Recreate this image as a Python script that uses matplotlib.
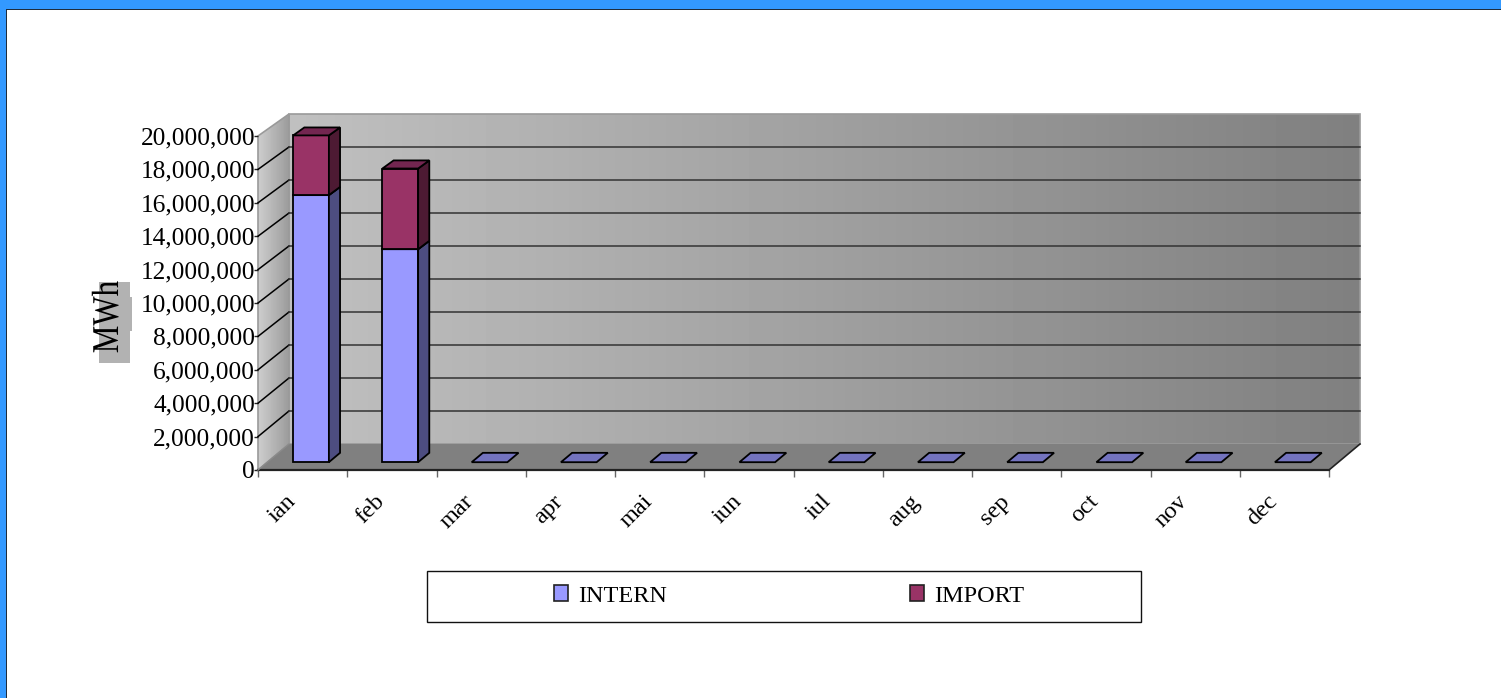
import matplotlib
matplotlib.use("Agg")
import matplotlib.pyplot as plt
import matplotlib.patheffects as pe
import numpy as np
from matplotlib.patches import Patch, Polygon, Rectangle
from matplotlib.transforms import Affine2D

months = ["ian", "feb", "mar", "apr", "mai", "iun", "iul", "aug", "sep", "oct", "nov", "dec"]
intern = [16050000, 12800000, 0, 0, 0, 0, 0, 0, 0, 0, 0, 0]
imports = [3590000, 4850000, 0, 0, 0, 0, 0, 0, 0, 0, 0, 0]
yticks = [0, 2000000, 4000000, 6000000, 8000000, 10000000, 12000000, 14000000, 16000000, 18000000, 20000000]

W, H = 1501, 698
LEFT, RIGHT, BOTTOM, TOP = 258, 1329, 470, 136
YMAX = 20000000

# 3d look: how far the back wall sits from the front plane, in data units
DX = 31 / ((RIGHT - LEFT) / 12)
DY = 26 / (BOTTOM - TOP) * YMAX
SHRINK = 0.012

plt.rcParams["font.family"] = ["Liberation Serif", "DejaVu Serif"]


def fx(x):
    return x / W


def fy(y):
    return 1 - y / H


def proj(x, v, d):
    return x + d * DX, v * (1 - d * SHRINK) + d * DY


class Squash(pe.AbstractPathEffect):
    # squeeze a text around a pixel, the original label is stretched
    def __init__(self, cx, cy, sx, sy):
        super().__init__()
        self.tr = Affine2D().translate(-cx, -cy).scale(sx, sy).translate(cx, cy)

    def draw_path(self, renderer, gc, tpath, affine, rgbFace=None):
        renderer.draw_path(gc, tpath, affine + self.tr, rgbFace)


fig = plt.figure(figsize=(W / 100, H / 100), dpi=100, facecolor="white")

# blue slide border
fig.add_artist(Rectangle((0, fy(9)), 1, 9 / H, transform=fig.transFigure, fc="#3399ff", ec="none"))
fig.add_artist(Rectangle((0, 0), 6 / W, 1, transform=fig.transFigure, fc="#3399ff", ec="none"))
fig.add_artist(Rectangle((fx(6), fy(10)), 1, 1 / H, transform=fig.transFigure, fc="#1f2d3d", ec="none"))
fig.add_artist(Rectangle((fx(6), 0), 1 / W, fy(10), transform=fig.transFigure, fc="#1f2d3d", ec="none"))

ax = fig.add_axes([fx(LEFT), fy(BOTTOM), (RIGHT - LEFT) / W, (BOTTOM - TOP) / H])
ax.set_facecolor("none")
for s in ax.spines.values():
    s.set_visible(False)

# back wall
back = [proj(0, 0, 1), proj(12, 0, 1), proj(12, YMAX, 1), proj(0, YMAX, 1)]
grad = np.linspace(0.753, 0.5, 256).reshape(1, -1)
im = ax.imshow(grad, cmap="gray", vmin=0, vmax=1, aspect="auto", zorder=1,
               extent=(back[0][0], back[1][0], back[0][1], back[2][1]))
poly = Polygon(back, closed=True, fc="none", ec="#9a9a9a", lw=1.2, zorder=1.5, clip_on=False)
ax.add_patch(poly)
im.set_clip_box(fig.bbox)
im.set_clip_path(poly)

# side wall, banded grey
side = [proj(0, 0, 0), proj(0, 0, 1), proj(0, YMAX, 1), proj(0, YMAX, 0)]
bands = np.linspace(0.8, 0.62, 12).reshape(1, -1)
im2 = ax.imshow(bands, cmap="gray", vmin=0, vmax=1, aspect="auto", zorder=1,
                extent=(0, DX, 0, YMAX + DY))
poly2 = Polygon(side, closed=True, fc="none", ec="#9a9a9a", lw=1.2, zorder=1.5, clip_on=False)
ax.add_patch(poly2)
im2.set_clip_box(fig.bbox)
im2.set_clip_path(poly2)

# floor
floor = [proj(0, 0, 0), proj(12, 0, 0), proj(12, 0, 1), proj(0, 0, 1)]
ax.add_patch(Polygon(floor, closed=True, fc="#808080", ec="none", zorder=2, clip_on=False))

# gridlines
for v in yticks[1:-1]:
    x0, y0 = proj(0, v, 0)
    x1, y1 = proj(0, v, 1)
    x2, y2 = proj(12, v, 1)
    ax.plot([x0, x1], [y0, y1], color="black", lw=1.1, zorder=2, clip_on=False)
    ax.plot([x1, x2], [y1, y2], color="#333333", lw=1.1, zorder=2, clip_on=False)
ax.plot([0, 12], [0, 0], color="#222222", lw=1.6, zorder=3, clip_on=False)
ax.plot(*zip(proj(12, 0, 0), proj(12, 0, 1)), color="#222222", lw=1.2, zorder=3, clip_on=False)
ax.plot(*zip(proj(0, 0, 0), proj(0, 0, 1)), color="#8a8a8a", lw=1, zorder=3, clip_on=False)

# bars
WIDTH = 0.4
D0, D1 = 0.3, 0.66


def draw_segment(x0, v0, v1, front, sidec, topc, z):
    x1 = x0 + WIDTH
    if v1 > v0:
        ax.add_patch(Polygon([proj(x0, v0, D0), proj(x1, v0, D0), proj(x1, v1, D0), proj(x0, v1, D0)],
                             closed=True, fc=front, ec="black", lw=1.3, zorder=z, clip_on=False))
        ax.add_patch(Polygon([proj(x1, v0, D0), proj(x1, v0, D1), proj(x1, v1, D1), proj(x1, v1, D0)],
                             closed=True, fc=sidec, ec="black", lw=1.3, zorder=z, clip_on=False))
    ax.add_patch(Polygon([proj(x0, v1, D0), proj(x1, v1, D0), proj(x1, v1, D1), proj(x0, v1, D1)],
                         closed=True, fc=topc, ec="black", lw=1.3, zorder=z, clip_on=False))


for i in range(len(months)):
    x0 = i + 0.49 - WIDTH / 2
    draw_segment(x0, 0, intern[i], "#9999ff", "#4d4d80", "#7373bf", 4)
    if imports[i] > 0:
        draw_segment(x0, intern[i], intern[i] + imports[i], "#993366", "#4d1a33", "#732650", 5)

ax.set_xlim(0, 12)
ax.set_ylim(0, YMAX)

ax.set_yticks(yticks)
ax.set_yticklabels([f"{v:,}" for v in yticks], fontsize=18.3)
ax.tick_params(axis="y", length=3, width=1, pad=-1, color="#222222")
ax.set_xticks(range(13))
ax.set_xticklabels([])
ax.tick_params(axis="x", which="major", length=5, width=1, color="#666666")
ax.set_xticks(np.arange(12) + 0.3, minor=True)
ax.set_xticklabels(months, minor=True, rotation=45, ha="right", va="top",
                   rotation_mode="anchor", fontsize=17.5)
ax.tick_params(axis="x", which="minor", length=0, pad=15)

# y axis title with the grey box behind it
fig.add_artist(Rectangle((fx(99), fy(363)), 31 / W, 81 / H, transform=fig.transFigure, fc="#b2b2b2", ec="none"))
fig.add_artist(Rectangle((fx(130), fy(331)), 2 / W, 34 / H, transform=fig.transFigure, fc="#b2b2b2", ec="none"))
fig.text(fx(109), fy(317), "MWh", rotation=90, ha="center", va="center", fontsize=31,
         path_effects=[Squash(109, H - 317, 0.88, 0.72)])

# legend box
fig.add_artist(Rectangle((fx(427), fy(622)), 714 / W, 51 / H, transform=fig.transFigure,
                         fc="white", ec="#111111", lw=1))
handles = [Patch(fc="#9999ff", ec="#222222", lw=1.2), Patch(fc="#993366", ec="#222222", lw=1.2)]
fig.legend(handles, ["INTERN", "IMPORT"], loc="center", bbox_to_anchor=(fx(789), fy(596)), ncol=2,
           frameon=False, fontsize=17.5, handlelength=0.6, handleheight=0.58, handletextpad=0.4,
           columnspacing=10.0, borderpad=0)

fig.savefig("out.png", dpi=100)
